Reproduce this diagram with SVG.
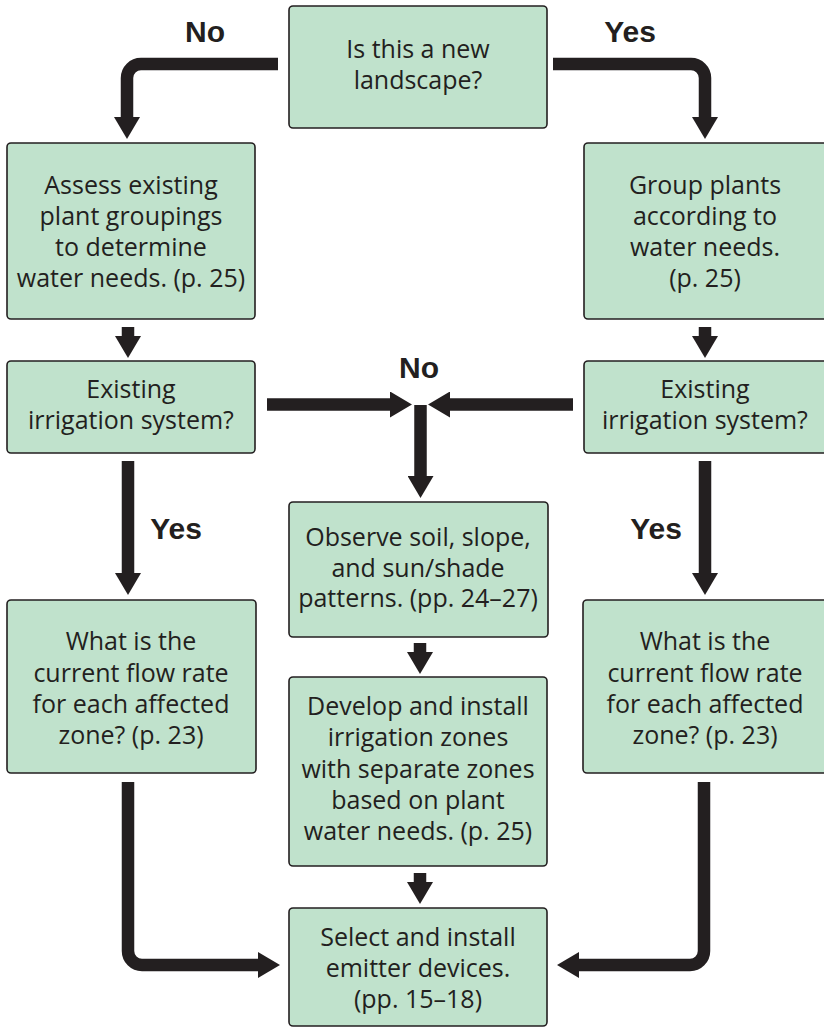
<svg xmlns="http://www.w3.org/2000/svg" width="824" height="1030" viewBox="0 0 824 1030">
<style>
.box{fill:#c0e2cc;stroke:#231f20;stroke-width:1.6}
.t{font-family:"Open Sans","Liberation Sans",sans-serif;font-size:25px;fill:#231f20;text-anchor:middle}
.lbl{font-family:"Liberation Sans","Open Sans",sans-serif;font-size:30px;font-weight:bold;fill:#231f20;text-anchor:middle}
.c{fill:none;stroke:#231f20;stroke-width:12.5;marker-end:url(#ah)}
</style>
<defs>
<marker id="ah" markerUnits="userSpaceOnUse" markerWidth="22" markerHeight="26" refX="0" refY="13" orient="auto">
<path d="M0,0 L22,13 L0,26 Z" fill="#231f20"/>
</marker>
</defs>
<rect width="824" height="1030" fill="#ffffff"/>
<g id="connectors">
<path class="c" d="M278,64 H141 A14,14 0 0 0 127,78 V117"/>
<path class="c" d="M553,64 H691 A14,14 0 0 1 705,78 V117"/>
<path class="c" d="M128,327 V336"/>
<path class="c" d="M705,327 V336"/>
<path class="c" d="M267,404.5 H390"/>
<path class="c" d="M573,404.5 H450"/>
<path class="c" d="M420.5,405 V476"/>
<path class="c" d="M128,461 V573"/>
<path class="c" d="M705,461 V573"/>
<path class="c" d="M420,643 V652"/>
<path class="c" d="M420,873 V882"/>
<path class="c" d="M128,782 V951 A14,14 0 0 0 142,965 H258"/>
<path class="c" d="M704,782 V951 A14,14 0 0 1 690,965 H579"/>
</g>
<g id="labels">
<text class="lbl" x="205" y="42">No</text>
<text class="lbl" x="630" y="42">Yes</text>
<text class="lbl" x="419" y="378">No</text>
<text class="lbl" x="176" y="539">Yes</text>
<text class="lbl" x="656" y="539">Yes</text>
</g>
<g id="n-new">
<rect class="box" x="289" y="6" width="258" height="122" rx="4"/>
<text class="t" x="418" y="58">Is this a new</text>
<text class="t" x="418" y="89">landscape?</text>
</g>
<g id="n-assess">
<rect class="box" x="7" y="143" width="248" height="176" rx="4"/>
<text class="t" x="131" y="194">Assess existing</text>
<text class="t" x="131" y="225">plant groupings</text>
<text class="t" x="131" y="256">to determine</text>
<text class="t" x="131" y="287">water needs. (p. 25)</text>
</g>
<g id="n-group">
<rect class="box" x="584" y="143" width="244" height="176" rx="4"/>
<text class="t" x="705" y="194">Group plants</text>
<text class="t" x="705" y="225">according to</text>
<text class="t" x="705" y="256">water needs.</text>
<text class="t" x="705" y="287">(p. 25)</text>
</g>
<g id="n-exist-left">
<rect class="box" x="7" y="361" width="248" height="92" rx="4"/>
<text class="t" x="131" y="398">Existing</text>
<text class="t" x="131" y="429">irrigation system?</text>
</g>
<g id="n-exist-right">
<rect class="box" x="584" y="361" width="244" height="92" rx="4"/>
<text class="t" x="705" y="398">Existing</text>
<text class="t" x="705" y="429">irrigation system?</text>
</g>
<g id="n-observe">
<rect class="box" x="289" y="502" width="259" height="135" rx="4"/>
<text class="t" x="418" y="546">Observe soil, slope,</text>
<text class="t" x="418" y="577">and sun/shade</text>
<text class="t" x="418" y="607">patterns. (pp. 24–27)</text>
</g>
<g id="n-flow-left">
<rect class="box" x="7" y="600" width="249" height="173" rx="4"/>
<text class="t" x="131" y="650">What is the</text>
<text class="t" x="131" y="682">current flow rate</text>
<text class="t" x="131" y="713">for each affected</text>
<text class="t" x="131" y="744">zone? (p. 23)</text>
</g>
<g id="n-flow-right">
<rect class="box" x="583" y="600" width="245" height="173" rx="4"/>
<text class="t" x="705" y="650">What is the</text>
<text class="t" x="705" y="682">current flow rate</text>
<text class="t" x="705" y="713">for each affected</text>
<text class="t" x="705" y="744">zone? (p. 23)</text>
</g>
<g id="n-develop">
<rect class="box" x="289" y="677" width="258" height="189" rx="4"/>
<text class="t" x="418" y="715">Develop and install</text>
<text class="t" x="418" y="746">irrigation zones</text>
<text class="t" x="418" y="778">with separate zones</text>
<text class="t" x="418" y="809">based on plant</text>
<text class="t" x="418" y="840">water needs. (p. 25)</text>
</g>
<g id="n-select">
<rect class="box" x="289" y="908" width="258" height="118" rx="4"/>
<text class="t" x="418" y="946">Select and install</text>
<text class="t" x="418" y="977">emitter devices.</text>
<text class="t" x="418" y="1008">(pp. 15–18)</text>
</g>
</svg>
